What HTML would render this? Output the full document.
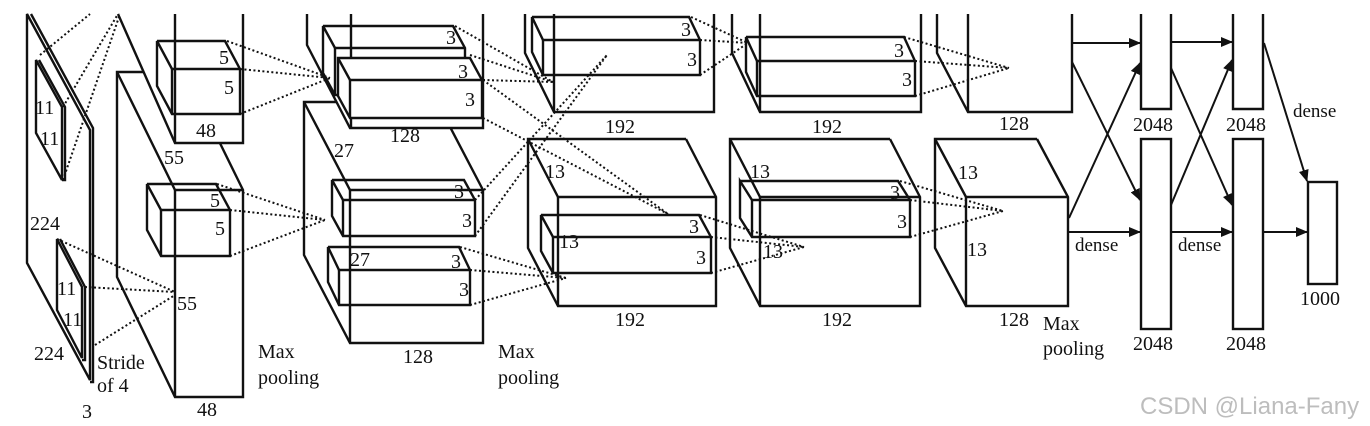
<!DOCTYPE html>
<html><head><meta charset="utf-8"><style>
html,body{margin:0;padding:0;background:#fff;}
svg{display:block;}
text{font-family:"Liberation Serif",serif;font-size:20px;fill:#111;}
.w{font-family:"Liberation Sans","DejaVu Sans",sans-serif;font-size:24px;fill:#bdbdbd;}
</style></head><body>
<svg width="1370" height="426" viewBox="0 0 1370 426" xmlns="http://www.w3.org/2000/svg">
<defs><marker id="ar" markerWidth="12" markerHeight="10" refX="11" refY="5" orient="auto" markerUnits="userSpaceOnUse"><path d="M0,0 L12,5 L0,10 z" fill="#111"/></marker></defs>
<g fill="none" stroke="#111" stroke-width="2.4">
<polygon points="27,14 90,130 90,380 27,263" fill="#fff"/>
<polyline points="31,14 93,128 93,382 90,382"/>
<polygon points="36,60 62,107 62,180 36,133"/>
<polyline points="39,60 65,107 65,180 62,180"/>
<polygon points="57,239 82,287 82,358 57,310"/>
<polyline points="60,239 85,287 85,360 82,360"/>
<polyline points="185,72 117,72 117,277 175,397 243,397 243,190 185,72"/>
<polyline points="117,72 175,190 243,190"/><line x1="175" y1="190" x2="175" y2="397"/>
<polygon points="118,14 243,14 243,143 175,143" fill="#fff" stroke="none"/>
<polyline points="118,14 175,143 243,143 243,14"/><line x1="175" y1="14" x2="175" y2="143"/>
<polyline points="157,41 225,41 240,69 240,114 172,114 157,86 157,41 172,69 240,69"/><line x1="172" y1="69" x2="172" y2="114"/>
<polyline points="147,184 216,184 230,210 230,256 161,256 147,230 147,184 161,210 230,210"/><line x1="161" y1="210" x2="161" y2="256"/>
<polyline points="437,102 304,102 304,255 350,343 483,343 483,190 437,102"/>
<polyline points="304,102 350,190 483,190"/><line x1="350" y1="190" x2="350" y2="343"/>
<polygon points="307,14 483,14 483,128 350,128 307,45" fill="#fff" stroke="none"/>
<polyline points="307,14 307,45 350,128 483,128 483,14"/><line x1="351" y1="14" x2="351" y2="128"/>
<polyline points="323,26 453,26 465,48 465,95 335,95 323,73 323,26 335,48 465,48"/><line x1="335" y1="48" x2="335" y2="95"/>
<polygon points="338,58 470,58 482,80 482,118 350,118 338,96" fill="#fff"/>
<polyline points="338,58 350,80 482,80"/><line x1="350" y1="80" x2="350" y2="118"/>
<polyline points="332,180 464,180 475,200 475,236 343,236 332,216 332,180 343,200 475,200"/><line x1="343" y1="200" x2="343" y2="236"/>
<polyline points="328,247 459,247 470,270 470,305 339,305 328,282 328,247 339,270 470,270"/><line x1="339" y1="270" x2="339" y2="305"/>
<polyline points="525,14 525,53 554,112 714,112 714,14"/><line x1="554" y1="14" x2="554" y2="112"/>
<polyline points="532,17 689,17 700,40 700,75 543,75 532,52 532,17 543,40 700,40"/><line x1="543" y1="40" x2="543" y2="75"/>
<polyline points="686,139 528,139 528,248 558,306 716,306 716,197 686,139"/>
<polyline points="528,139 558,197 716,197"/><line x1="558" y1="197" x2="558" y2="306"/>
<polyline points="541,215 699,215 711,237 711,273 553,273 541,251 541,215 553,237 711,237"/><line x1="553" y1="237" x2="553" y2="273"/>
<polyline points="732,14 732,53 760,112 921,112 921,14"/><line x1="760" y1="14" x2="760" y2="112"/>
<polyline points="746,37 904,37 915,61 915,96 757,96 746,72 746,37 757,61 915,61"/><line x1="757" y1="61" x2="757" y2="96"/>
<polyline points="890,139 730,139 730,248 760,306 920,306 920,197 890,139"/>
<polyline points="730,139 760,197 920,197"/><line x1="760" y1="197" x2="760" y2="306"/>
<polyline points="740,181 898,181 910,200 910,237 752,237 740,218 740,181 752,200 910,200"/><line x1="752" y1="200" x2="752" y2="237"/>
<polyline points="937,14 937,53 968,112 1072,112 1072,14"/><line x1="968" y1="14" x2="968" y2="112"/>
<polyline points="1037,139 935,139 935,248 966,306 1068,306 1068,197 1037,139"/>
<polyline points="935,139 966,197 1068,197"/><line x1="966" y1="197" x2="966" y2="306"/>
<polyline points="1141,14 1141,109 1171,109 1171,14"/>
<rect x="1141" y="139" width="30" height="190"/>
<polyline points="1233,14 1233,109 1263,109 1263,14"/>
<rect x="1233" y="139" width="30" height="190"/>
<rect x="1308" y="182" width="29" height="102"/>
</g>
<g stroke="#111" stroke-width="2" marker-end="url(#ar)">
<line x1="1072" y1="43" x2="1140" y2="43"/>
<line x1="1072" y1="62" x2="1140" y2="200"/>
<line x1="1069" y1="218" x2="1140" y2="63"/>
<line x1="1069" y1="232" x2="1140" y2="232"/>
<line x1="1171" y1="42" x2="1232" y2="42"/>
<line x1="1171" y1="68" x2="1232" y2="205"/>
<line x1="1171" y1="205" x2="1232" y2="60"/>
<line x1="1171" y1="232" x2="1232" y2="232"/>
<line x1="1264" y1="43" x2="1307" y2="181"/>
<line x1="1263" y1="232" x2="1307" y2="232"/>
</g>
<g stroke="#111" stroke-width="2" stroke-dasharray="2,2.5" fill="none">
<path d="M40,55 L90,14 M63,107 L118,14 M63,180 L120,14"/>
<path d="M57,239 L175,292 M85,287 L175,292 M95,345 L175,295"/>
<path d="M227,41 L330,78 M240,69 L330,78 M240,114 L330,78"/>
<path d="M217,184 L325,220 M230,210 L325,220 M230,256 L325,220"/>
<path d="M455,26 L553,82 M470,55 L553,82 M483,80 L553,82"/>
<path d="M483,80 L668,214 M483,118 L668,214"/>
<path d="M475,200 L607,55 M475,236 L607,55"/>
<path d="M460,247 L566,278 M470,270 L566,278 M470,305 L566,278"/>
<path d="M691,17 L748,43 M700,40 L748,43 M700,75 L748,43"/>
<path d="M700,215 L804,247 M711,237 L804,247 M711,273 L804,247"/>
<path d="M904,37 L1009,68 M915,61 L1009,68 M915,96 L1009,68"/>
<path d="M900,181 L1003,211 M910,200 L1003,211 M910,237 L1003,211"/>
</g>
<g>
<text x="35" y="114">11</text><text x="40" y="145">11</text>
<text x="30" y="230">224</text>
<text x="57" y="295">11</text><text x="63" y="326">11</text>
<text x="34" y="360">224</text>
<text x="97" y="369">Stride</text><text x="97" y="392">of 4</text>
<text x="82" y="418">3</text>
<text x="219" y="64">5</text><text x="224" y="94">5</text>
<text x="196" y="137">48</text><text x="164" y="164">55</text>
<text x="210" y="207">5</text><text x="215" y="235">5</text>
<text x="177" y="310">55</text>
<text x="197" y="416">48</text>
<text x="258" y="358">Max</text><text x="258" y="384">pooling</text>
<text x="446" y="44">3</text><text x="458" y="78">3</text><text x="465" y="106">3</text>
<text x="390" y="142">128</text><text x="334" y="157">27</text>
<text x="454" y="198">3</text><text x="462" y="227">3</text>
<text x="350" y="266">27</text><text x="451" y="268">3</text><text x="459" y="296">3</text>
<text x="403" y="363">128</text>
<text x="498" y="358">Max</text><text x="498" y="384">pooling</text>
<text x="681" y="36">3</text><text x="687" y="66">3</text>
<text x="605" y="133">192</text>
<text x="545" y="178">13</text><text x="559" y="248">13</text>
<text x="689" y="233">3</text><text x="696" y="264">3</text>
<text x="615" y="326">192</text>
<text x="894" y="57">3</text><text x="902" y="86">3</text>
<text x="812" y="133">192</text>
<text x="750" y="178">13</text><text x="763" y="258">13</text>
<text x="890" y="199">3</text><text x="897" y="228">3</text>
<text x="822" y="326">192</text>
<text x="999" y="130">128</text>
<text x="958" y="179">13</text><text x="967" y="256">13</text>
<text x="999" y="326">128</text>
<text x="1043" y="330">Max</text><text x="1043" y="355">pooling</text>
<text x="1075" y="251" style="font-size:19px">dense</text>
<text x="1178" y="251" style="font-size:19px">dense</text>
<text x="1293" y="117" style="font-size:19px">dense</text>
<text x="1133" y="131">2048</text><text x="1226" y="131">2048</text>
<text x="1133" y="350">2048</text><text x="1226" y="350">2048</text>
<text x="1300" y="305">1000</text>
<text class="w" x="1140" y="414">CSDN @Liana-Fany</text>
</g>
</svg>
</body></html>
